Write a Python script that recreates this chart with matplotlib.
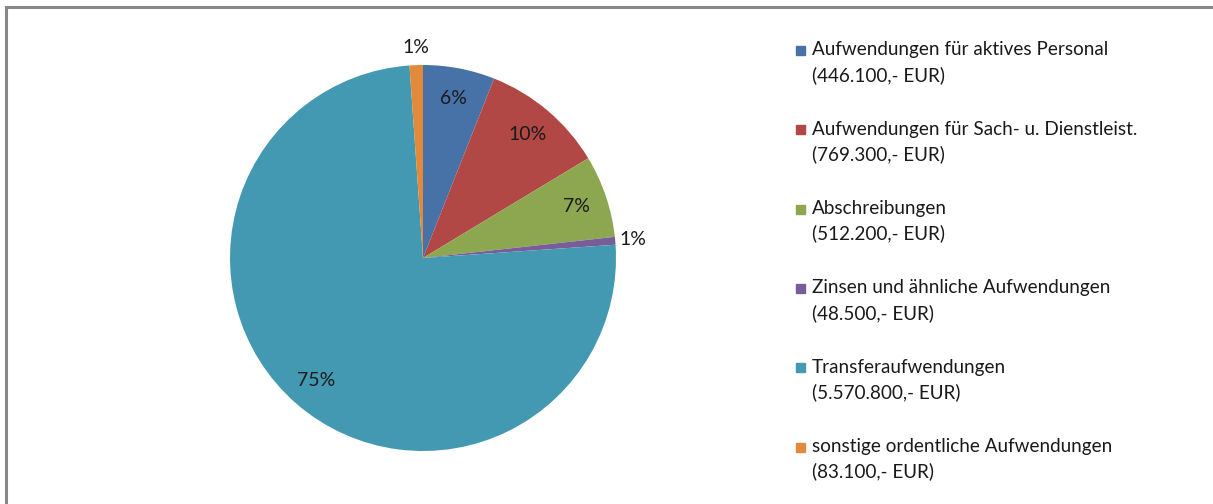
import matplotlib
matplotlib.use("Agg")
import matplotlib.pyplot as plt
from matplotlib.patches import Rectangle
from matplotlib.lines import Line2D
import numpy as np

plt.rcParams['font.family'] = ['Lato', 'DejaVu Sans']

# data
labels = ["Aufwendungen für aktives Personal",
          "Aufwendungen für Sach- u. Dienstleist.",
          "Abschreibungen",
          "Zinsen und ähnliche Aufwendungen",
          "Transferaufwendungen",
          "sonstige ordentliche Aufwendungen"]
amounts = [446100, 769300, 512200, 48500, 5570800, 83100]
amount_txt = ["446.100,- EUR", "769.300,- EUR", "512.200,- EUR",
              "48.500,- EUR", "5.570.800,- EUR", "83.100,- EUR"]
colors = ["#4672A8", "#B24846", "#8CA750", "#795D99", "#4399B1", "#E3893A"]

W, H = 1213, 504
fig = plt.figure(figsize=(W / 100, H / 100), dpi=100)

# frame lines (top and left) like the original screenshot
fig.add_artist(Line2D([6 / W, 1], [1 - 7 / H, 1 - 7 / H], color="#888888", lw=2.2, transform=fig.transFigure))
fig.add_artist(Line2D([6 / W, 6 / W], [0, 1 - 7 / H], color="#888888", lw=2.2, transform=fig.transFigure))

cx, cy, r = 423, 258, 193
ax = fig.add_axes([(cx - r) / W, (H - cy - r) / H, 2 * r / W, 2 * r / H])
wedges, _ = ax.pie(amounts, colors=colors, startangle=90, counterclock=False,
                   radius=1, wedgeprops=dict(linewidth=0))
ax.set_xlim(-1, 1)
ax.set_ylim(-1, 1)
ax.set_aspect("auto")

total = sum(amounts)
for w, a in zip(wedges, amounts):
    pct = a / total * 100
    mid = np.deg2rad((w.theta1 + w.theta2) / 2)
    d = 1.09 if pct < 2 else 0.84
    ax.text(d * np.cos(mid), d * np.sin(mid), "%d%%" % round(pct),
            ha="center", va="center", fontsize=14, color="#1a1a1a", clip_on=False)

# legend drawn by hand so the square sits on the first line
lx, ly, step = 796, 50, 79.3
for i, (lab, amt, c) in enumerate(zip(labels, amount_txt, colors)):
    y = ly + i * step
    fig.add_artist(Rectangle((lx / W, 1 - (y + 5) / H), 9 / W, 9 / H, color=c,
                             transform=fig.transFigure))
    fig.text((lx + 16) / W, 1 - y / H, lab, ha="left", va="center",
             fontsize=13.6, color="#1a1a1a")
    fig.text((lx + 16) / W, 1 - (y + 25) / H, "(" + amt + ")", ha="left", va="center",
             fontsize=13.6, color="#1a1a1a")

fig.savefig("out.png", dpi=100)
